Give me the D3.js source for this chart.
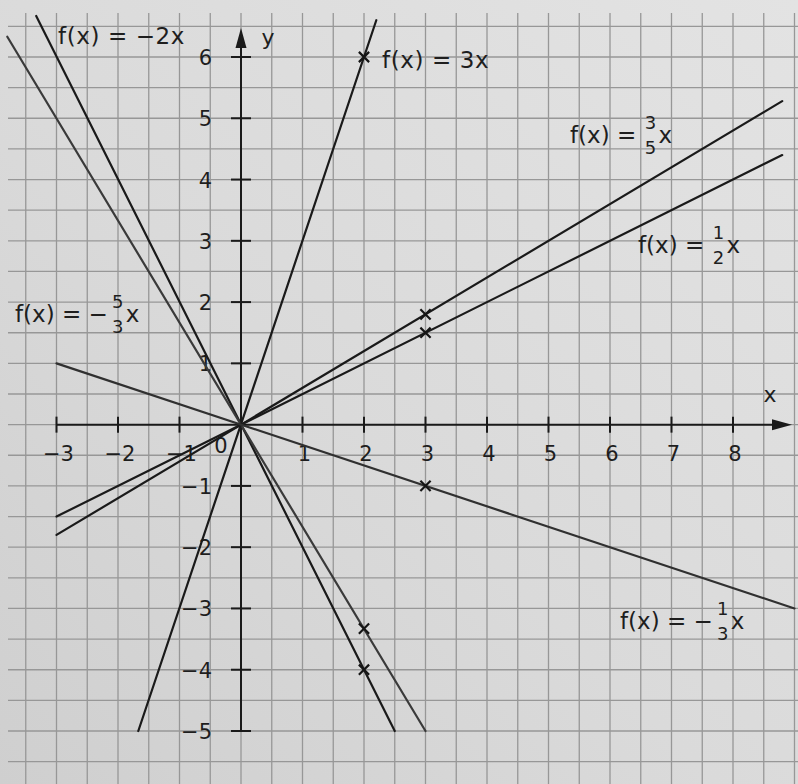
<!DOCTYPE html>
<html>
<head>
<meta charset="utf-8">
<script src="https://cdn.jsdelivr.net/npm/d3@7"></script>
<style>
  html, body { margin: 0; padding: 0; background: #dcdcdc; }
  svg { display: block; }
  text { font-family: "DejaVu Sans", sans-serif; fill: #1e1e1e; white-space: pre; }
</style>
</head>
<body>
<svg id="chart" width="798" height="784"></svg>
<script>
// Graphs of proportional functions f(x) = m·x on squared paper

// x-axis and y-axis tick values
const xTicks = [-3, -2, -1, 1, 2, 3, 4, 5, 6, 7, 8];
const yTicks = [-5, -4, -3, -2, -1, 1, 2, 3, 4, 5, 6];

// each graph as a segment: start point (x0, y0) and end point (x1, y1)
const lineNames = ["-2x", "-5/3x", "3x", "3/5x", "1/2x", "-1/3x"];
const lineX0 = [-3.33, -3.8, -1.67, -3, -3, -3];
const lineY0 = [6.67, 6.33, -5, -1.8, -1.5, 1];
const lineX1 = [2.5, 3, 2.2, 8.8, 8.8, 9];
const lineY1 = [-5, -5, 6.6, 5.28, 4.4, -3];

// slope-triangle points marked with a cross on each graph
const markX = [2, 2, 2, 3, 3, 3];
const markY = [-4, -3.33, 6, 1.8, 1.5, -1];

// function labels: text before the fraction, fraction parts, text after
const labelPrefix = ["f(x) = −2x", "f(x) = −", "f(x) = 3x", "f(x) = ", "f(x) = ", "f(x) = −"];
const labelNum = [null, "5", null, "3", "1", "1"];
const labelDen = [null, "3", null, "5", "2", "3"];
const labelSuffix = ["", "x", "", "x", "x", "x"];

// label placement (left edge, baseline) and stroke shade per graph
const labelPos = [[58, 44], [15, 322], [382, 68], [570, 143], [638, 253], [620, 629]];
const lineShade = ["#1a1a1a", "#3a3a3a", "#1a1a1a", "#1a1a1a", "#1a1a1a", "#303030"];

const W = 798, H = 784;
const svg = d3.select("#chart");

const x = d3.scaleLinear().domain([-3, 8]).range([56.5, 733]);
const y = d3.scaleLinear().domain([-5, 6]).range([731, 57]);

// paper
const defs = svg.append("defs");
const grad = defs.append("linearGradient").attr("id", "paper")
  .attr("x1", "100%").attr("y1", "0%").attr("x2", "0%").attr("y2", "100%");
grad.append("stop").attr("offset", "0%").attr("stop-color", "#e3e3e3");
grad.append("stop").attr("offset", "55%").attr("stop-color", "#dadada");
grad.append("stop").attr("offset", "100%").attr("stop-color", "#cfcfcf");
svg.append("rect").attr("width", W).attr("height", H).attr("fill", "url(#paper)");

// half-unit grid squares
const gridX = d3.range(-8, 18.5, 1).map(k => k / 2).filter(v => x(v) > 2 && x(v) < W - 1);
const gridY = d3.range(-12, 14.5, 1).map(k => k / 2).filter(v => y(v) > 20 && y(v) < H - 1);
const grid = svg.append("g").attr("stroke", "#979797").attr("stroke-width", 1.3);
grid.selectAll("line.v").data(gridX).join("line").attr("class", "v")
  .attr("x1", d => x(d)).attr("x2", d => x(d)).attr("y1", 13).attr("y2", H);
grid.selectAll("line.h").data(gridY).join("line").attr("class", "h")
  .attr("x1", 8).attr("x2", W).attr("y1", d => y(d)).attr("y2", d => y(d));

// axes
const axes = svg.append("g").attr("stroke", "#1a1a1a").attr("stroke-width", 2);
const xTip = 792, yTip = 28;
axes.append("line").attr("x1", x(-3)).attr("x2", xTip - 8).attr("y1", y(0)).attr("y2", y(0));
axes.append("line").attr("x1", x(0)).attr("x2", x(0)).attr("y1", y(-5)).attr("y2", yTip + 8);
svg.append("path").attr("fill", "#1a1a1a")
  .attr("d", `M${xTip},${y(0)} L${xTip - 20},${y(0) - 5.5} L${xTip - 20},${y(0) + 5.5} Z`);
svg.append("path").attr("fill", "#1a1a1a")
  .attr("d", `M${x(0)},${yTip} L${x(0) - 5.5},${yTip + 20} L${x(0) + 5.5},${yTip + 20} Z`);

axes.selectAll("line.xt").data(xTicks).join("line").attr("class", "xt")
  .attr("x1", d => x(d)).attr("x2", d => x(d)).attr("y1", y(0) - 8).attr("y2", y(0) + 8);
axes.selectAll("line.yt").data(yTicks).join("line").attr("class", "yt")
  .attr("x1", x(0) - 10).attr("x2", x(0) + 10).attr("y1", d => y(d)).attr("y2", d => y(d));

const fmt = d => d < 0 ? "−" + Math.abs(d) : String(d);
svg.selectAll("text.xl").data(xTicks).join("text").attr("class", "xl")
  .attr("x", d => x(d) + 2).attr("y", y(0) + 36)
  .attr("text-anchor", "middle").attr("font-size", 21).text(fmt);
svg.selectAll("text.yl").data(yTicks).join("text").attr("class", "yl")
  .attr("x", x(0) - 29).attr("y", d => y(d) + 8)
  .attr("text-anchor", "end").attr("font-size", 21).text(fmt);
svg.append("text").attr("x", x(0) - 20).attr("y", y(0) + 28)
  .attr("text-anchor", "middle").attr("font-size", 21).text("0");
svg.append("text").attr("x", 770).attr("y", 402)
  .attr("text-anchor", "middle").attr("font-size", 22).text("x");
svg.append("text").attr("x", 268).attr("y", 45)
  .attr("text-anchor", "middle").attr("font-size", 22).text("y");

// graphs
const graphs = svg.append("g").attr("fill", "none").attr("stroke-linecap", "round");
graphs.selectAll("line").data(lineNames).join("line")
  .attr("x1", (d, i) => x(lineX0[i])).attr("y1", (d, i) => y(lineY0[i]))
  .attr("x2", (d, i) => x(lineX1[i])).attr("y2", (d, i) => y(lineY1[i]))
  .attr("stroke", (d, i) => lineShade[i]).attr("stroke-width", 2.2);

// crosses at the marked points
const cross = d3.symbol().type(d3.symbolTimes).size(70);
svg.selectAll("path.mark").data(markX).join("path").attr("class", "mark")
  .attr("d", cross)
  .attr("transform", (d, i) => `translate(${x(markX[i])},${y(markY[i])})`)
  .attr("fill", "none").attr("stroke", "#151515").attr("stroke-width", 2.2);

// function labels
lineNames.forEach((name, i) => {
  const [lx, ly] = labelPos[i];
  const g = svg.append("g");
  const t = g.append("text").attr("x", lx).attr("y", ly).attr("font-size", 23)
    .attr("letter-spacing", labelNum[i] ? 0 : 0.6).text(labelPrefix[i]);
  if (labelNum[i]) {
    const w = t.node().getComputedTextLength();
    const cx = lx + w + (labelPrefix[i].endsWith("−") ? 10 : 7);
    g.append("text").attr("x", cx).attr("y", ly - 14).attr("font-size", 18)
      .attr("text-anchor", "middle").text(labelNum[i]);
    g.append("text").attr("x", cx).attr("y", ly + 11).attr("font-size", 18)
      .attr("text-anchor", "middle").text(labelDen[i]);
    g.append("text").attr("x", cx + 8).attr("y", ly).attr("font-size", 23).text(labelSuffix[i]);
  }
});
</script>
</body>
</html>
